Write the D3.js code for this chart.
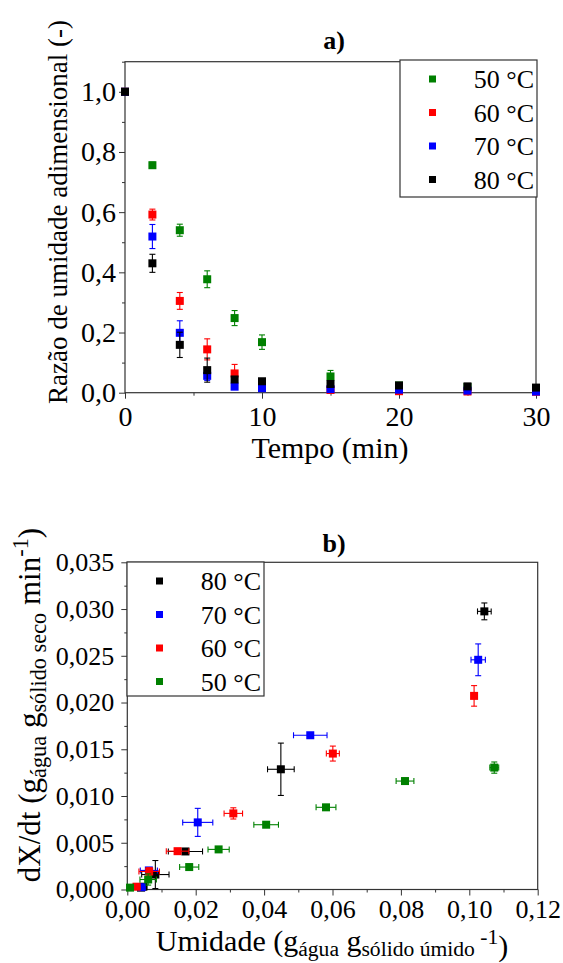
<!DOCTYPE html>
<html>
<head>
<meta charset="utf-8">
<script src="https://cdn.jsdelivr.net/npm/d3@7"></script>
<style>
  body { margin: 0; background: #fff; }
  svg { display: block; }
  svg text { font-family: "Liberation Serif", "Times New Roman", Times, Tinos, "DejaVu Serif", serif !important; fill: #000; }
</style>
</head>
<body>
<script>
// ---- panel a) drying curves ----
const tempo = [0, 2, 4, 6, 8, 10, 15, 20, 25, 30];
const razao50 = [1.0, 0.756, 0.540, 0.377, 0.248, 0.168, 0.054, 0.024, 0.019, 0.015];
const erro50 = [0, 0.010, 0.020, 0.028, 0.025, 0.024, 0.020, 0.004, 0.004, 0.004];
const razao60 = [1.0, 0.592, 0.305, 0.144, 0.064, 0.020, 0.009, 0.005, 0.004, 0.003];
const erro60 = [0, 0.018, 0.028, 0.035, 0.030, 0.004, 0.004, 0.002, 0.002, 0.002];
const razao70 = [1.0, 0.519, 0.199, 0.056, 0.020, 0.015, 0.012, 0.010, 0.007, 0.004];
const erro70 = [0, 0.040, 0.040, 0.015, 0.006, 0.004, 0.003, 0.002, 0.002, 0.002];
const razao80 = [1.0, 0.430, 0.159, 0.075, 0.044, 0.038, 0.029, 0.024, 0.021, 0.017];
const erro80 = [0, 0.030, 0.042, 0.040, 0.008, 0.004, 0.003, 0.003, 0.002, 0.002];

// ---- panel b) drying rate vs moisture ----
const umid80 = [0.1044, 0.0449, 0.0170, 0.0082, 0.0047, 0.0040];
const taxa80 = [0.02975, 0.01286, 0.00407, 0.00160, 0.00030, 0.00020];
const eUmid80 = [0.0020, 0.0039, 0.0050, 0.0040, 0.0010, 0.0010];
const eTaxa80 = [0.0009, 0.0028, 0.0002, 0.0015, 0.0002, 0.0001];
const umid70 = [0.1026, 0.0535, 0.0206, 0.0063, 0.0042];
const taxa70 = [0.02457, 0.01650, 0.00718, 0.00204, 0.00025];
const eUmid70 = [0.0021, 0.0049, 0.0044, 0.0025, 0.0010];
const eTaxa70 = [0.0017, 0.0002, 0.0015, 0.0003, 0.0001];
const umid60 = [0.1014, 0.0601, 0.0310, 0.0147, 0.0064, 0.0027];
const taxa60 = [0.02071, 0.01454, 0.00814, 0.00410, 0.00193, 0.00030];
const eUmid60 = [0.0005, 0.0019, 0.0027, 0.0033, 0.0030, 0.0010];
const eTaxa60 = [0.0011, 0.0008, 0.0006, 0.0002, 0.0004, 0.0001];
const umid50 = [0.1073, 0.0812, 0.0581, 0.0406, 0.0267, 0.0181, 0.0061, 0.0008];
const taxa50 = [0.01304, 0.01160, 0.00879, 0.00693, 0.00429, 0.00240, 0.00107, 0.00020];
const eUmid50 = [0.0013, 0.0026, 0.0029, 0.0036, 0.0031, 0.0028, 0.0024, 0.0005];
const eTaxa50 = [0.0006, 0.0003, 0.0003, 0.0002, 0.0003, 0.0003, 0.0006, 0.0001];

const cores = { 50: "#008000", 60: "#ff0000", 70: "#0000ff", 80: "#000000" };
const decimal = d3.formatLocale({ decimal: ",", thousands: ".", grouping: [3], currency: ["", ""] });
const serif = '"Liberation Serif", "Times New Roman", Times, Tinos, "DejaVu Serif", serif';

const svg = d3.select("body").append("svg").attr("width", 563).attr("height", 963)
    .attr("font-family", serif);

function drawPanel(cfg) {
    const g = svg.append("g");
    const x = d3.scaleLinear().domain(cfg.xDomain).range([cfg.left, cfg.right]);
    const y = d3.scaleLinear().domain(cfg.yDomain).range([cfg.bottom, cfg.top]);

    // frame
    g.append("rect")
        .attr("x", cfg.left).attr("y", cfg.top)
        .attr("width", cfg.right - cfg.left).attr("height", cfg.bottom - cfg.top)
        .attr("fill", "none").attr("stroke", "#333").attr("stroke-width", 1.2);

    // minor ticks
    g.append("g").attr("transform", `translate(0,${cfg.bottom})`)
        .call(d3.axisBottom(x).tickValues(cfg.xMinor).tickSize(3).tickFormat(""))
        .call(a => a.select(".domain").remove());
    g.append("g").attr("transform", `translate(${cfg.left},0)`)
        .call(d3.axisLeft(y).tickValues(cfg.yMinor).tickSize(3).tickFormat(""))
        .call(a => a.select(".domain").remove());

    // major ticks
    const xa = g.append("g").attr("transform", `translate(0,${cfg.bottom})`)
        .call(d3.axisBottom(x).tickValues(cfg.xTicks).tickSize(6).tickPadding(cfg.xPad)
            .tickFormat(decimal.format(cfg.xFmt)));
    const ya = g.append("g").attr("transform", `translate(${cfg.left},0)`)
        .call(d3.axisLeft(y).tickValues(cfg.yTicks).tickSize(6).tickPadding(cfg.yPad)
            .tickFormat(decimal.format(cfg.yFmt)));
    [xa, ya].forEach(a => {
        a.attr("font-family", serif).attr("font-size", cfg.tickFont);
        a.select(".domain").remove();
    });
    g.selectAll(".tick line").attr("stroke", "#333");

    // series: error bars + squares
    cfg.series.forEach(s => {
        const pts = s.xs.map((v, i) => ({ x: v, y: s.ys[i], ex: s.exs ? s.exs[i] : 0, ey: s.eys[i] }));
        const c = cores[s.temp];
        const eg = g.append("g").attr("stroke", c).attr("stroke-width", 1.1).attr("fill", "none");
        pts.forEach(p => {
            const cx = x(p.x), cy = y(p.y);
            if (p.ey > 0) {
                const y1 = y(p.y + p.ey), y2 = y(p.y - p.ey);
                eg.append("line").attr("x1", cx).attr("x2", cx).attr("y1", y1).attr("y2", y2);
                eg.append("line").attr("x1", cx - 3).attr("x2", cx + 3).attr("y1", y1).attr("y2", y1);
                eg.append("line").attr("x1", cx - 3).attr("x2", cx + 3).attr("y1", y2).attr("y2", y2);
            }
            if (p.ex > 0) {
                const x1 = x(p.x - p.ex), x2 = x(p.x + p.ex);
                eg.append("line").attr("x1", x1).attr("x2", x2).attr("y1", cy).attr("y2", cy);
                eg.append("line").attr("x1", x1).attr("x2", x1).attr("y1", cy - 3).attr("y2", cy + 3);
                eg.append("line").attr("x1", x2).attr("x2", x2).attr("y1", cy - 3).attr("y2", cy + 3);
            }
        });
        g.append("g").selectAll("rect").data(pts).join("rect")
            .attr("x", d => x(d.x) - 4).attr("y", d => y(d.y) - 4)
            .attr("width", 8).attr("height", 8).attr("fill", c);
    });

    // legend
    const lg = g.append("g");
    lg.append("rect")
        .attr("x", cfg.legend.x).attr("y", cfg.legend.y)
        .attr("width", cfg.legend.w).attr("height", cfg.legend.h)
        .attr("fill", "#fff").attr("stroke", "#333").attr("stroke-width", 1.2);
    cfg.legend.order.forEach((t, i) => {
        const ry = cfg.legend.y + 19 + i * 33.5;
        lg.append("rect").attr("x", cfg.legend.x + 29).attr("y", ry - 3.5)
            .attr("width", 7).attr("height", 7).attr("fill", cores[t]);
        lg.append("text").attr("x", cfg.legend.x + cfg.legend.w - 3).attr("y", ry + 9)
            .attr("text-anchor", "end").attr("font-size", 26).text(`${t} °C`);
    });

    // title
    g.append("text").attr("x", 334).attr("y", cfg.titleY)
        .attr("text-anchor", "middle").attr("font-size", 26).attr("font-weight", "bold")
        .text(cfg.title);
    return { x, y };
}

drawPanel({
    left: 125, right: 536, top: 61.7, bottom: 392.7,
    xDomain: [0, 30], yDomain: [0, 1.1], tickFont: 28,
    xTicks: [0, 10, 20, 30], xMinor: [5, 15, 25], xFmt: "d", xPad: 7,
    yTicks: [0, 0.2, 0.4, 0.6, 0.8, 1.0], yMinor: [0.1, 0.3, 0.5, 0.7, 0.9, 1.1], yFmt: ".1f", yPad: 3,
    series: [
        { temp: 50, xs: tempo, ys: razao50, eys: erro50 },
        { temp: 60, xs: tempo, ys: razao60, eys: erro60 },
        { temp: 70, xs: tempo, ys: razao70, eys: erro70 },
        { temp: 80, xs: tempo, ys: razao80, eys: erro80 }
    ],
    legend: { x: 400, y: 60, w: 137, h: 137, order: [50, 60, 70, 80] },
    title: "a)", titleY: 49
});

drawPanel({
    left: 127.3, right: 537.7, top: 562.3, bottom: 889.5,
    xDomain: [0, 0.12], yDomain: [0, 0.035], tickFont: 26,
    xTicks: d3.range(0, 0.1201, 0.02), xMinor: d3.range(0.01, 0.12, 0.02), xFmt: ".2f", xPad: 4,
    yTicks: d3.range(0, 0.03501, 0.005), yMinor: d3.range(0.0025, 0.035, 0.005), yFmt: ".3f", yPad: 7,
    series: [
        { temp: 80, xs: umid80, ys: taxa80, exs: eUmid80, eys: eTaxa80 },
        { temp: 70, xs: umid70, ys: taxa70, exs: eUmid70, eys: eTaxa70 },
        { temp: 60, xs: umid60, ys: taxa60, exs: eUmid60, eys: eTaxa60 },
        { temp: 50, xs: umid50, ys: taxa50, exs: eUmid50, eys: eTaxa50 }
    ],
    legend: { x: 127, y: 562, w: 137, h: 134, order: [80, 70, 60, 50] },
    title: "b)", titleY: 552
});

// axis labels
svg.append("text").attr("x", 330).attr("y", 458).attr("text-anchor", "middle")
    .attr("font-size", 30).text("Tempo (min)");
svg.append("text").attr("transform", "translate(67,212) rotate(-90)").attr("text-anchor", "middle")
    .attr("font-size", 27).text("Razão de umidade adimensional (-)");

function richLabel(sel, parts, size) {
    parts.forEach(p => {
        const t = sel.append("tspan").text(p.t);
        if (p.k === "sub") t.attr("font-size", size * 0.72).attr("dy", size * 0.18);
        else if (p.k === "sup") t.attr("font-size", size * 0.72).attr("dy", -size * 0.4);
        if (p.back) t.attr("dy", p.back);
    });
}
const yb = svg.append("text").attr("transform", "translate(40,705) rotate(-90)")
    .attr("text-anchor", "middle").attr("font-size", 31);
richLabel(yb, [
    { t: "dX/dt (g" },
    { t: "água", k: "sub" },
    { t: " g", back: -31 * 0.18 },
    { t: "sólido seco", k: "sub" },
    { t: " min", back: -31 * 0.18 },
    { t: "-1", k: "sup" },
    { t: ")", back: 31 * 0.4 }
], 31);

const xb = svg.append("text").attr("x", 332).attr("y", 951)
    .attr("text-anchor", "middle").attr("font-size", 30);
richLabel(xb, [
    { t: "Umidade (g" },
    { t: "água", k: "sub" },
    { t: " g", back: -30 * 0.18 },
    { t: "sólido úmido", k: "sub" },
    { t: " -1", k: "sup" },
    { t: ")", back: 30 * 0.4 }
], 30);
</script>
</body>
</html>
